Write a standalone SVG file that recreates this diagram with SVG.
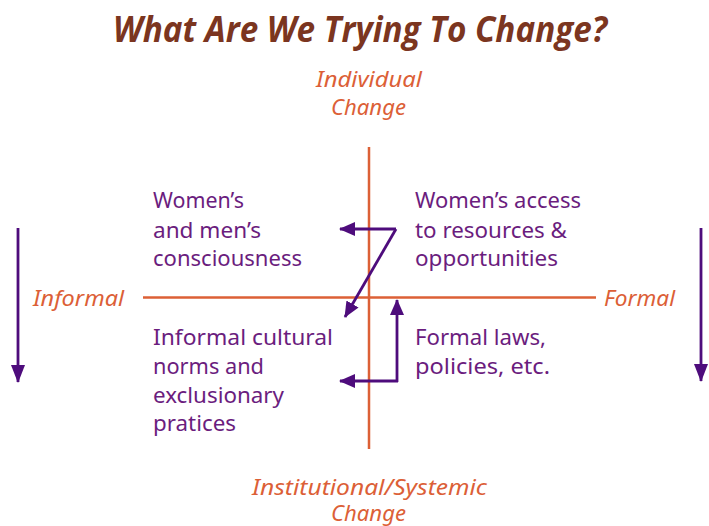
<svg xmlns="http://www.w3.org/2000/svg" width="709" height="526" viewBox="0 0 709 526">
<defs>
<style>
.title{font-family:"Open Sans","Noto Sans",sans-serif;font-weight:bold;font-style:italic;font-size:36px;fill:#7b3520}
.axis{font-family:"Noto Sans","Open Sans",sans-serif;font-style:italic;font-size:22px;fill:#dc5f37}
.body{font-family:"Noto Sans","Open Sans",sans-serif;font-size:22px;fill:#6b1d7e}
.ax{stroke:#dc6036;stroke-width:2.5;fill:none}
.arr{stroke:#4e0c7c;stroke-width:2.8;fill:none}
</style>
<marker id="ah" viewBox="0 0 16 14" refX="15" refY="7" markerWidth="16" markerHeight="14" markerUnits="userSpaceOnUse" orient="auto">
<path d="M0,0 L16,7 L0,14 z" fill="#4e0c7c"/>
</marker>
<marker id="ahv" viewBox="0 0 18 14" refX="17" refY="7" markerWidth="18" markerHeight="14" markerUnits="userSpaceOnUse" orient="auto">
<path d="M0,0 L18,7 L0,14 z" fill="#4e0c7c"/>
</marker>
</defs>
<rect width="709" height="526" fill="#ffffff"/>
<text class="title" x="113" y="42" textLength="494" lengthAdjust="spacingAndGlyphs">What Are We Trying To Change?</text>

<g id="axes">
<line class="ax" x1="369" y1="147" x2="369" y2="449"/>
<line class="ax" x1="143" y1="297.5" x2="596" y2="297.5"/>
</g>
<g id="label-individual">
<text class="axis" x="316" y="87" textLength="106" lengthAdjust="spacingAndGlyphs">Individual</text>
<text class="axis" x="331" y="115" textLength="75" lengthAdjust="spacingAndGlyphs">Change</text>
</g>
<g id="label-institutional">
<text class="axis" x="252" y="495" textLength="235" lengthAdjust="spacingAndGlyphs">Institutional/Systemic</text>
<text class="axis" x="331" y="521" textLength="75" lengthAdjust="spacingAndGlyphs">Change</text>
</g>
<g id="label-informal">
<text class="axis" x="33" y="306" textLength="91" lengthAdjust="spacingAndGlyphs">Informal</text>
</g>
<g id="label-formal">
<text class="axis" x="604" y="306" textLength="71" lengthAdjust="spacingAndGlyphs">Formal</text>
</g>

<g id="q-consciousness">
<text class="body" x="153" y="208" textLength="91" lengthAdjust="spacingAndGlyphs">Women’s</text>
<text class="body" x="153" y="237.5" textLength="108" lengthAdjust="spacingAndGlyphs">and men’s</text>
<text class="body" x="153" y="266" textLength="149" lengthAdjust="spacingAndGlyphs">consciousness</text>
</g>
<g id="q-access">
<text class="body" x="415" y="208" textLength="166" lengthAdjust="spacingAndGlyphs">Women’s access</text>
<text class="body" x="415" y="237.5" textLength="152" lengthAdjust="spacingAndGlyphs">to resources &amp;</text>
<text class="body" x="415" y="266" textLength="143" lengthAdjust="spacingAndGlyphs">opportunities</text>
</g>
<g id="q-norms">
<text class="body" x="153" y="345" textLength="180" lengthAdjust="spacingAndGlyphs">Informal cultural</text>
<text class="body" x="153" y="374" textLength="111" lengthAdjust="spacingAndGlyphs">norms and</text>
<text class="body" x="153" y="403" textLength="131" lengthAdjust="spacingAndGlyphs">exclusionary</text>
<text class="body" x="153" y="431" textLength="83" lengthAdjust="spacingAndGlyphs">pratices</text>
</g>
<g id="q-laws">
<text class="body" x="415" y="345" textLength="131" lengthAdjust="spacingAndGlyphs">Formal laws,</text>
<text class="body" x="415" y="374" textLength="135" lengthAdjust="spacingAndGlyphs">policies, etc.</text>
</g>

<g id="connectors">
<line class="arr" x1="18" y1="228" x2="18" y2="382" marker-end="url(#ahv)"/>
<line class="arr" x1="701" y1="228" x2="701" y2="381" marker-end="url(#ahv)"/>
<line class="arr" x1="396" y1="229" x2="340" y2="229" marker-end="url(#ah)"/>
<line class="arr" x1="396" y1="229" x2="345" y2="317" marker-end="url(#ah)"/>
<line class="arr" x1="397" y1="382" x2="397" y2="300" marker-end="url(#ah)"/>
<line class="arr" x1="398" y1="381" x2="340" y2="381" marker-end="url(#ah)"/>
</g>
</svg>
